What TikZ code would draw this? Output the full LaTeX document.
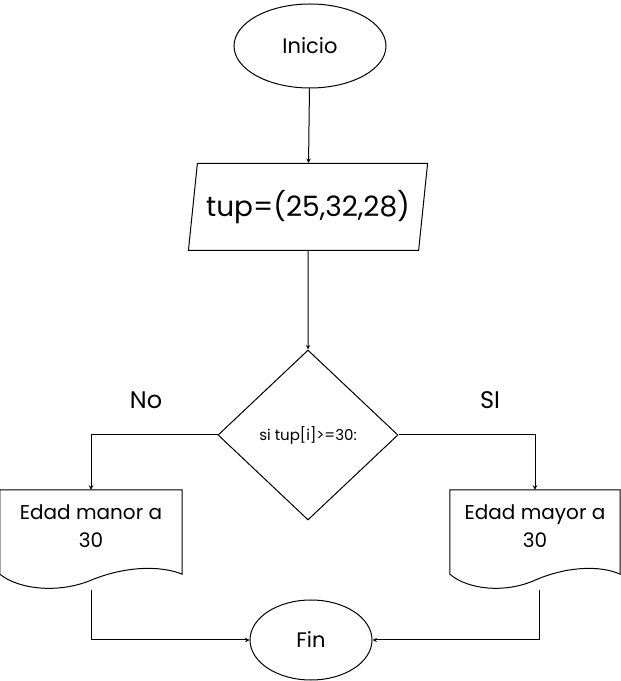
\documentclass[tikz,border=0pt]{standalone}
\usepackage{fontspec}
\setmainfont{Poppins}
\usetikzlibrary{shapes.geometric}

\tikzset{
  term/.style={draw, ellipse, line width=1pt, inner sep=0pt},
  io/.style={draw, trapezium, trapezium left angle=78, trapezium right angle=102,
    trapezium stretches=true, minimum width=240, minimum height=87, line width=1pt,
    font=\fontsize{28}{32}\selectfont},
  decision/.style={draw, diamond, minimum width=180, minimum height=170, inner sep=0pt,
    line width=1pt, font=\fontsize{15}{18}\selectfont},
  docbox/.style={minimum height=84, inner sep=0pt},
  doctext/.style={align=center, font=\fontsize{20}{28}\selectfont},
  branch/.style={font=\fontsize{24}{28}\selectfont},
  arr/.style={->, >=stealth, line width=1pt},
}

\begin{document}
\begin{tikzpicture}[x=1pt, y=1pt]
            \useasboundingbox (0,0) rectangle (621,681);

            \node[term, minimum width=152, minimum height=84, font=\fontsize{21}{24}\selectfont] (inicio) at (310,635) {Inicio};
            \node[io] (tup) at (308,474) {tup=(25,32,28)};
            \node[decision] (cond) at (308,246) {si tup[i]>=30:};
            \node[branch] (no) at (146,281) {No};
            \node[branch] (si) at (490,281) {SI};
            \node[docbox, minimum width=182] (docL) at (91,149) {};
            \node[docbox, minimum width=170] (docR) at (535,149) {};
            \node[doctext] (txtL) at ([yshift=6]docL.center) {Edad manor a\\30};
            \node[doctext] (txtR) at ([yshift=6]docR.center) {Edad mayor a\\30};
            \node[term, minimum width=122, minimum height=80, font=\fontsize{21}{24}\selectfont] (fin) at (311,41) {Fin};
            \coordinate (outL) at (91,91);
            \coordinate (outR) at (539,91);

            % document shapes
            \draw[line width=1pt] (docL.north west) -- (docL.north east) -- (docL.south east)
              .. controls +(-22,9) and +(34,14) .. ([yshift=-6]docL.south)
              .. controls +(-31,-13) and +(20,-16) .. (docL.south west) -- cycle;
            \draw[line width=1pt] (docR.north west) -- (docR.north east) -- (docR.south east)
              .. controls +(-20,9) and +(32,14) .. ([yshift=-6]docR.south)
              .. controls +(-29,-13) and +(19,-16) .. (docR.south west) -- cycle;

            \draw[arr] (inicio) -- (tup);
            \draw[arr] (tup) -- (cond);
            \draw[arr] (cond.west) -| (docL.north);
            \draw[arr] (cond.east) -| (docR.north);
            \draw[arr] (outL) |- (fin.west);
            \draw[arr] (outR) |- (fin.east);
        \end{tikzpicture}
\end{document}
